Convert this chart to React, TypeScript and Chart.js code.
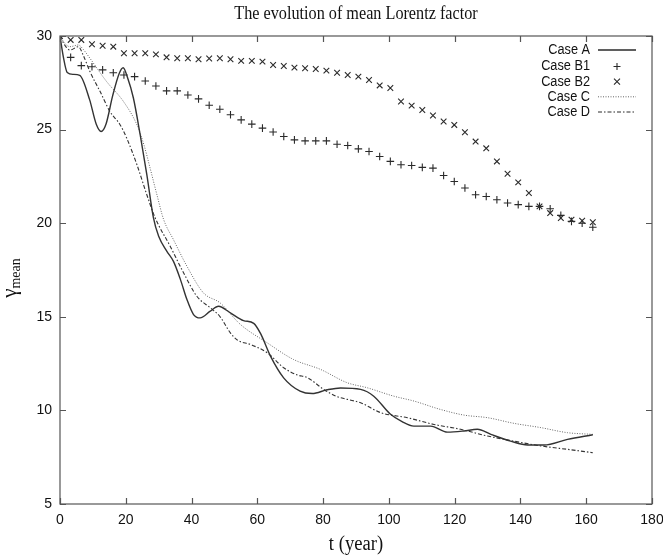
import { useEffect, useRef } from "react";
import { Chart, registerables } from "chart.js";

Chart.register(...registerables);

const TITLE = "The evolution of mean Lorentz factor";
const X_TITLE = "t (year)";
const X_TICKS = [0, 20, 40, 60, 80, 100, 120, 140, 160, 180];
const Y_TICKS = [5, 10, 15, 20, 25, 30];

// Marker series (shared sampling times)
const tMarkers = [
  0, 3.24, 6.48, 9.72, 12.96, 16.2, 19.44, 22.68, 25.92, 29.16, 32.4, 35.64, 38.88, 42.12, 45.36,
  48.6, 51.84, 55.08, 58.32, 61.56, 64.8, 68.04, 71.28, 74.52, 77.76, 81, 84.24, 87.48, 90.72,
  93.96, 97.2, 100.44, 103.68, 106.92, 110.16, 113.4, 116.64, 119.88, 123.12, 126.36, 129.6,
  132.84, 136.08, 139.32, 142.56, 145.8, 149.04, 152.28, 155.52, 158.76, 162,
];
const caseB1 = [
  30.0, 28.86, 28.42, 28.36, 28.19, 28.04, 27.92, 27.83, 27.6, 27.33, 27.07, 27.07, 26.85, 26.64,
  26.3, 26.09, 25.79, 25.52, 25.29, 25.08, 24.87, 24.63, 24.45, 24.4, 24.4, 24.4, 24.22, 24.15,
  23.97, 23.83, 23.56, 23.3, 23.12, 23.08, 22.98, 22.94, 22.55, 22.23, 21.88, 21.52, 21.43, 21.25,
  21.08, 20.99, 20.9, 20.9, 20.77, 20.42, 20.1, 20.0, 19.78,
];
const caseB2 = [
  30.0, 29.79, 29.79, 29.56, 29.48, 29.43, 29.08, 29.08, 29.08, 29.02, 28.86, 28.81, 28.81, 28.76,
  28.8, 28.81, 28.76, 28.67, 28.67, 28.63, 28.45, 28.4, 28.31, 28.28, 28.24, 28.15, 28.04, 27.92,
  27.83, 27.65, 27.36, 27.22, 26.5, 26.28, 26.05, 25.75, 25.43, 25.25, 24.86, 24.36, 24.0, 23.3,
  22.64, 22.18, 21.61, 20.9, 20.54, 20.28, 20.19, 20.13, 20.05,
];

// Case A (solid)
const tA = [
  0, 1, 2.2, 4, 6, 9, 11, 12.5, 14, 16, 18, 19.2, 20.5, 22.3, 24.4, 26.4, 28.4, 30, 32.5, 34.5,
  36.6, 38.6, 40.6, 42.6, 45.7, 48.2, 51.8, 55.8, 58.9, 61, 64, 68, 73, 76.7, 81.2, 85.3, 91.4,
  95.4, 100.5, 104, 107.6, 112.7, 117.8, 122.8, 126.9, 131, 137, 142.2, 147.2, 154.3, 162,
];
const caseA = [
  30, 28.9, 28.05, 27.95, 27.9, 26.6, 25.3, 24.9, 25.3, 26.8, 28.0, 28.3, 27.8, 26.7, 24.7, 22.6,
  20.3, 19.3, 18.5, 17.96, 17.0, 15.92, 15.12, 14.94, 15.3, 15.56, 15.21, 14.8, 14.65, 14.1, 12.9,
  11.74, 11.03, 10.9, 11.1, 11.2, 11.12, 10.76, 9.79, 9.4, 9.16, 9.16, 8.84, 8.9, 8.99, 8.72, 8.36,
  8.15, 8.15, 8.45, 8.7,
];

// Case C (dotted)
const tC = [
  0, 1.5, 3, 5.6, 7, 9.1, 14.2, 19.3, 23.4, 25.5, 27.4, 29.5, 31.5, 34.5, 38.6, 43.6, 48.7, 54.8,
  63, 71, 79.2, 87.3, 93.4, 101.5, 107.6, 115.7, 122.8, 130, 138, 146.2, 154.3, 162,
];
const caseC = [
  30, 29.6, 29.43, 29.52, 29.3, 28.81, 27.56, 26.5, 25.25, 24.2, 22.94, 21.5, 20.2, 19.12, 17.7,
  16.28, 15.74, 14.6, 13.61, 12.72, 12.19, 11.48, 11.21, 10.76, 10.5, 10.05, 9.75, 9.61, 9.31, 9.08,
  8.81, 8.72,
];

// Case D (dash-dot)
const tD = [
  0, 1.5, 3, 5.6, 7, 9.1, 12.2, 15.2, 18.3, 20.3, 23.4, 26.4, 28.9, 33.5, 37.6, 41.6, 45.7, 48.7,
  51.8, 54, 57.9, 63, 68, 72, 75.2, 80.2, 84, 87.3, 91.4, 97.5, 105.6, 113.7, 121.8, 130, 138,
  146.2, 154.3, 162,
];
const caseD = [
  30, 29.5, 29.25, 29.43, 29.0, 28.1, 27.03, 25.96, 25.25, 24.54, 23.12, 21.52, 20.3, 18.77, 17.34,
  16.1, 15.48, 15.0, 14.14, 13.75, 13.52, 13.08, 12.28, 11.9, 11.75, 11.12, 10.75, 10.59, 10.41,
  9.88, 9.61, 9.25, 8.99, 8.63, 8.36, 8.1, 7.92, 7.74,
];

const LEGEND = ["Case A", "Case B1", "Case B2", "Case C", "Case D"];

const zip = (xs: number[], ys: number[]) => xs.map((x, i) => ({ x, y: ys[i] }));

const INK = "#2a2a2a";
const FRAME = "#555";
const SANS = "'Liberation Sans', Arial, sans-serif";
const SERIF = "'Liberation Serif', 'Times New Roman', serif";

function scaledText(ctx: CanvasRenderingContext2D, txt: string, x: number, y: number, sx: number, sy: number) {
  ctx.save();
  ctx.translate(x, y);
  ctx.scale(sx, sy);
  ctx.fillText(txt, 0, 0);
  ctx.restore();
}

const decorPlugin = {
  id: "decor",
  afterDraw(chart: any) {
    const { ctx, chartArea: a, scales } = chart;
    const xs = scales.x;
    const ys = scales.y;
    ctx.save();
    // frame
    ctx.strokeStyle = FRAME;
    ctx.lineWidth = 1.2;
    ctx.strokeRect(a.left, a.top, a.right - a.left, a.bottom - a.top);
    // inward ticks on all sides
    const tl = 6;
    ctx.beginPath();
    X_TICKS.forEach((v) => {
      const px = Math.round(xs.getPixelForValue(v)) + 0.5;
      ctx.moveTo(px, a.bottom);
      ctx.lineTo(px, a.bottom - tl);
      ctx.moveTo(px, a.top);
      ctx.lineTo(px, a.top + tl);
    });
    Y_TICKS.forEach((v) => {
      const py = Math.round(ys.getPixelForValue(v)) + 0.5;
      ctx.moveTo(a.left, py);
      ctx.lineTo(a.left + tl, py);
      ctx.moveTo(a.right, py);
      ctx.lineTo(a.right - tl, py);
    });
    ctx.stroke();

    // title
    const cx = (a.left + a.right) / 2;
    ctx.fillStyle = "#111";
    ctx.font = `18px ${SERIF}`;
    ctx.textAlign = "center";
    ctx.textBaseline = "middle";
    scaledText(ctx, TITLE, cx, 14, 0.9, 1.05);
    // x title
    ctx.font = `19px ${SERIF}`;
    scaledText(ctx, X_TITLE, cx, 545, 0.98, 1.05);

    // y title gamma_mean
    ctx.save();
    ctx.translate(16, 278);
    ctx.rotate(-Math.PI / 2);
    ctx.textBaseline = "alphabetic";
    ctx.textAlign = "left";
    ctx.font = `21px ${SERIF}`;
    const gw = ctx.measureText("γ").width;
    ctx.font = `14px ${SERIF}`;
    const mw = ctx.measureText("mean").width;
    const start = -(gw + mw) / 2;
    ctx.font = `21px ${SERIF}`;
    ctx.fillText("γ", start, 0);
    ctx.font = `14px ${SERIF}`;
    ctx.fillText("mean", start + gw, 4);
    ctx.restore();

    // legend
    const rows = [50, 66.5, 81.7, 96.8, 112];
    ctx.font = `14px ${SANS}`;
    ctx.textAlign = "right";
    ctx.textBaseline = "middle";
    ctx.fillStyle = "#111";
    LEGEND.forEach((txt, i) => scaledText(ctx, txt, 590, rows[i], 0.91, 1));
    const sx0 = 598;
    const sx1 = 636;
    const mid = 617;
    ctx.strokeStyle = INK;
    // A
    ctx.lineWidth = 1.4;
    ctx.setLineDash([]);
    ctx.beginPath();
    ctx.moveTo(sx0, rows[0]);
    ctx.lineTo(sx1, rows[0]);
    ctx.stroke();
    // B1 plus
    ctx.lineWidth = 1.1;
    ctx.beginPath();
    ctx.moveTo(mid - 3.5, rows[1]);
    ctx.lineTo(mid + 3.5, rows[1]);
    ctx.moveTo(mid, rows[1] - 3.5);
    ctx.lineTo(mid, rows[1] + 3.5);
    ctx.stroke();
    // B2 cross
    ctx.beginPath();
    ctx.moveTo(mid - 3, rows[2] - 3);
    ctx.lineTo(mid + 3, rows[2] + 3);
    ctx.moveTo(mid + 3, rows[2] - 3);
    ctx.lineTo(mid - 3, rows[2] + 3);
    ctx.stroke();
    // C dotted
    ctx.strokeStyle = "#666";
    ctx.lineWidth = 1;
    ctx.setLineDash([1, 1.5]);
    ctx.beginPath();
    ctx.moveTo(sx0, rows[3]);
    ctx.lineTo(sx1, rows[3]);
    ctx.stroke();
    // D dash-dot
    ctx.strokeStyle = INK;
    ctx.setLineDash([4, 2, 1.5, 2]);
    ctx.beginPath();
    ctx.moveTo(sx0, rows[4]);
    ctx.lineTo(sx1, rows[4]);
    ctx.stroke();
    ctx.restore();
  },
};

export default function App() {
  const ref = useRef<HTMLCanvasElement | null>(null);
  useEffect(() => {
    document.body.style.margin = "0";
    const canvas = ref.current;
    if (!canvas) return;
    const chart = new Chart(canvas, {
      type: "scatter",
      data: {
        datasets: [
          {
            label: "Case A",
            data: zip(tA, caseA),
            showLine: true,
            borderColor: "#333",
            borderWidth: 1.4,
            pointRadius: 0,
            cubicInterpolationMode: "monotone",
          },
          {
            label: "Case B1",
            data: zip(tMarkers, caseB1),
            showLine: false,
            pointStyle: "cross",
            pointRadius: 3.8,
            borderColor: INK,
            backgroundColor: INK,
            pointBorderWidth: 1.1,
          },
          {
            label: "Case B2",
            data: zip(tMarkers, caseB2),
            showLine: false,
            pointStyle: "crossRot",
            pointRadius: 4,
            borderColor: INK,
            backgroundColor: INK,
            pointBorderWidth: 1.1,
          },
          {
            label: "Case C",
            data: zip(tC, caseC),
            showLine: true,
            borderColor: "#666",
            borderWidth: 1,
            borderDash: [1, 1.5],
            pointRadius: 0,
            cubicInterpolationMode: "monotone",
          },
          {
            label: "Case D",
            data: zip(tD, caseD),
            showLine: true,
            borderColor: "#333",
            borderWidth: 1.1,
            borderDash: [4, 2, 1.5, 2],
            pointRadius: 0,
            cubicInterpolationMode: "monotone",
          },
        ],
      } as any,
      options: {
        animation: false,
        responsive: false,
        layout: { padding: { top: 36, right: 11, left: 0, bottom: 0 } },
        plugins: { legend: { display: false }, tooltip: { enabled: false }, title: { display: false } },
        scales: {
          x: {
            type: "linear",
            min: 0,
            max: 180,
            afterBuildTicks: (s: any) => {
              s.ticks = X_TICKS.map((v) => ({ value: v }));
            },
            afterFit: (s: any) => {
              s.height = 55;
              s.paddingLeft = 0;
              s.paddingRight = 0;
            },
            grid: { display: false, drawTicks: false },
            border: { display: false },
            ticks: { padding: 8, color: "#111", font: { family: SANS, size: 14 }, maxRotation: 0, autoSkip: false },
          },
          y: {
            type: "linear",
            min: 5,
            max: 30,
            afterBuildTicks: (s: any) => {
              s.ticks = Y_TICKS.map((v) => ({ value: v }));
            },
            afterFit: (s: any) => {
              s.width = 60;
              s.paddingTop = 0;
              s.paddingBottom = 0;
            },
            grid: { display: false, drawTicks: false },
            border: { display: false },
            ticks: { padding: 8, color: "#111", font: { family: SANS, size: 14 }, autoSkip: false },
          },
        },
      } as any,
      plugins: [decorPlugin],
    });
    return () => chart.destroy();
  }, []);
  return (
    <div style={{ width: 663, height: 559 }}>
      <canvas ref={ref} width={663} height={559} style={{ display: "block", width: 663, height: 559 }} />
    </div>
  );
}
